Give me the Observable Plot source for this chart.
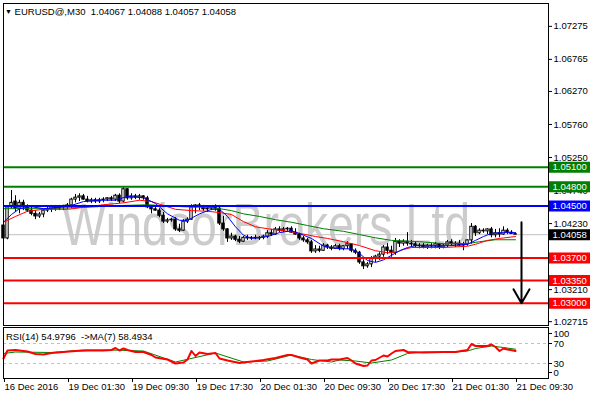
<!DOCTYPE html>
<html><head><meta charset="utf-8">
<script src="https://cdn.jsdelivr.net/npm/d3@7"></script>
<script src="https://cdn.jsdelivr.net/npm/@observablehq/plot@0.6"></script>
<style>
body{margin:0;background:#fff;}
#wrap{position:relative;width:590px;height:400px;overflow:hidden;font-family:"Liberation Sans",Arial,sans-serif;background:#fff;}
#main,#rsi{position:absolute;left:0;}
#main{top:0}
#rsi{top:327px}
.lbl{position:absolute;font-size:9.5px;line-height:11px;color:#000;white-space:pre;}
</style></head><body>
<div id="wrap"><div id="main"></div><div id="rsi"></div>
<div class="lbl" id="title" style="left:5px;top:6px"></div>
<div class="lbl" id="rsiTitle" style="left:6px;top:331px"></div>
</div>
<script>
// ---- header text ----
const symbolName = "EURUSD@,M30";
const headerOHLC = ["1.04067", "1.04088", "1.04057", "1.04058"];
const rsiHeader = ["RSI(14) 54.9796", "->MA(7) 58.4934"];
const watermark = "WindsorBrokers Ltd";

// ---- candles (30-min bars, index 0 = 16 Dec 2016 ... 128 = 21 Dec 09:30) ----
const open = [1.0420,1.0400,1.0448,1.0457,1.0446,1.0455,1.0448,1.0443,1.0438,1.0434,
 1.0437,1.0443,1.0445,1.0448,1.0446,1.0448,1.0449,1.0451,1.0460,1.0463,
 1.0465,1.0460,1.0457,1.0459,1.0457,1.0459,1.0460,1.0462,1.0460,1.0466,
 1.0457,1.0476,1.0462,1.0465,1.0463,1.0465,1.0462,1.0448,1.0445,1.0443,
 1.0435,1.0426,1.0428,1.0429,1.0414,1.0412,1.0426,1.0429,1.0448,1.0451,
 1.0449,1.0445,1.0446,1.0448,1.0446,1.0423,1.0414,1.0400,1.0403,1.0398,
 1.0395,1.0401,1.0400,1.0401,1.0400,1.0401,1.0403,1.0408,1.0406,1.0414,
 1.0412,1.0414,1.0415,1.0409,1.0406,1.0400,1.0397,1.0394,1.0380,1.0383,
 1.0381,1.0389,1.0386,1.0384,1.0388,1.0384,1.0388,1.0391,1.0381,1.0378,
 1.0363,1.0357,1.0360,1.0369,1.0372,1.0375,1.0386,1.0381,1.0378,1.0395,
 1.0392,1.0395,1.0392,1.0391,1.0388,1.0389,1.0386,1.0389,1.0388,1.0391,
 1.0386,1.0389,1.0394,1.0391,1.0392,1.0389,1.0391,1.0397,1.0418,1.0408,
 1.0412,1.0411,1.0414,1.0405,1.0408,1.0406,1.0412,1.0409,1.04067];
const high = [1.0425,1.0451,1.0474,1.0466,1.0459,1.0459,1.0452,1.0449,1.0443,1.0440,
 1.0445,1.0448,1.0451,1.0451,1.0451,1.0451,1.0454,1.0462,1.0468,1.0469,
 1.0468,1.0465,1.0462,1.0462,1.0462,1.0463,1.0463,1.0465,1.0468,1.0469,
 1.0479,1.0477,1.0469,1.0468,1.0468,1.0466,1.0465,1.0451,1.0449,1.0446,
 1.0440,1.0431,1.0431,1.0432,1.0422,1.0429,1.0432,1.0452,1.0452,1.0454,
 1.0451,1.0449,1.0449,1.0452,1.0449,1.0434,1.0415,1.0408,1.0405,1.0403,
 1.0403,1.0405,1.0403,1.0405,1.0403,1.0405,1.0412,1.0414,1.0417,1.0418,
 1.0417,1.0417,1.0418,1.0415,1.0408,1.0403,1.0400,1.0397,1.0389,1.0388,
 1.0392,1.0391,1.0389,1.0391,1.0391,1.0389,1.0395,1.0392,1.0384,1.0380,
 1.0367,1.0363,1.0372,1.0374,1.0378,1.0389,1.0392,1.0388,1.0400,1.0398,
 1.0398,1.0409,1.0397,1.0395,1.0392,1.0392,1.0391,1.0392,1.0394,1.0392,
 1.0391,1.0397,1.0398,1.0395,1.0397,1.0394,1.0398,1.0423,1.0420,1.0415,
 1.0415,1.0415,1.0417,1.0414,1.0415,1.0418,1.0415,1.0412,1.04088];
const low = [1.0397,1.0398,1.0446,1.0440,1.0438,1.0443,1.0440,1.0435,1.0429,1.0431,
 1.0432,1.0440,1.0440,1.0442,1.0443,1.0443,1.0445,1.0446,1.0455,1.0457,
 1.0459,1.0455,1.0454,1.0454,1.0454,1.0455,1.0457,1.0457,1.0457,1.0454,
 1.0455,1.0459,1.0459,1.0460,1.0459,1.0459,1.0446,1.0438,1.0442,1.0432,
 1.0423,1.0423,1.0425,1.0411,1.0409,1.0411,1.0423,1.0428,1.0438,1.0443,
 1.0442,1.0440,1.0443,1.0442,1.0420,1.0411,1.0394,1.0397,1.0395,1.0392,
 1.0394,1.0397,1.0397,1.0398,1.0397,1.0398,1.0400,1.0403,1.0405,1.0409,
 1.0409,1.0411,1.0408,1.0405,1.0397,1.0394,1.0391,1.0377,1.0377,1.0378,
 1.0380,1.0383,1.0381,1.0383,1.0381,1.0381,1.0383,1.0378,1.0375,1.0360,
 1.0352,1.0354,1.0355,1.0363,1.0366,1.0371,1.0375,1.0371,1.0374,1.0386,
 1.0388,1.0388,1.0386,1.0386,1.0384,1.0384,1.0383,1.0384,1.0384,1.0383,
 1.0384,1.0386,1.0388,1.0386,1.0388,1.0381,1.0388,1.0391,1.0403,1.0406,
 1.0408,1.0406,1.0401,1.0401,1.0401,1.0405,1.0406,1.0406,1.04057];
const close = [1.0400,1.0448,1.0455,1.0446,1.0455,1.0448,1.0443,1.0438,1.0434,1.0437,
 1.0443,1.0445,1.0448,1.0446,1.0448,1.0449,1.0451,1.0460,1.0463,1.0465,
 1.0460,1.0457,1.0459,1.0457,1.0459,1.0460,1.0462,1.0460,1.0466,1.0457,
 1.0476,1.0462,1.0465,1.0463,1.0465,1.0462,1.0448,1.0445,1.0443,1.0435,
 1.0426,1.0428,1.0429,1.0414,1.0412,1.0426,1.0429,1.0448,1.0451,1.0449,
 1.0445,1.0446,1.0448,1.0446,1.0423,1.0414,1.0400,1.0403,1.0398,1.0395,
 1.0401,1.0400,1.0401,1.0400,1.0401,1.0403,1.0408,1.0406,1.0414,1.0412,
 1.0414,1.0415,1.0409,1.0406,1.0400,1.0397,1.0394,1.0380,1.0383,1.0381,
 1.0389,1.0386,1.0384,1.0388,1.0384,1.0388,1.0391,1.0381,1.0378,1.0363,
 1.0357,1.0360,1.0369,1.0372,1.0375,1.0386,1.0381,1.0378,1.0395,1.0392,
 1.0395,1.0392,1.0391,1.0388,1.0389,1.0386,1.0389,1.0388,1.0391,1.0386,
 1.0389,1.0394,1.0391,1.0392,1.0389,1.0391,1.0397,1.0418,1.0408,1.0412,
 1.0411,1.0414,1.0405,1.0408,1.0406,1.0412,1.0409,1.0407,1.04058];

// ---- moving averages (bar index, price) ----
const maFastBar = [0,2,4,7,10,14,17,20,24,28,31,35,38,41,44,46,49,52,54,56,58,60,62,66,69,72,75,77,80,84,87,89,91,93,95,97,99,101,103,108,112,116,118,120,122,125,128];
const maFastVal = [1.0425,1.0437,1.0446,1.0449,1.0446,1.0448,1.0451,1.0457,1.0459,1.0459,1.0465,1.0463,1.0454,1.0438,1.0428,1.0428,1.0438,1.0445,1.0445,1.0434,1.0418,1.0405,1.0400,1.0403,1.0409,1.0412,1.0405,1.0400,1.0388,1.0384,1.0384,1.0377,1.0366,1.0363,1.0367,1.0374,1.0381,1.0386,1.0389,1.0388,1.0389,1.0391,1.0397,1.0403,1.0408,1.0409,1.0409];
const maMidBar = [0,3,6,10,16,20,25,30,34,37,40,43,47,51,54,57,60,63,66,70,74,78,81,85,89,93,96,98,100,102,110,116,118,121,124,128];
const maMidVal = [1.0425,1.0434,1.0442,1.0445,1.0445,1.0448,1.0452,1.0455,1.0459,1.0457,1.0451,1.0445,1.0443,1.0442,1.0440,1.0437,1.0426,1.0418,1.0415,1.0412,1.0408,1.0403,1.0400,1.0395,1.0389,1.0381,1.0378,1.0378,1.0383,1.0386,1.0386,1.0388,1.0391,1.0397,1.0400,1.0403];
const maSlowBar = [0,10,20,30,36,45,51,54,57,60,64,68,72,76,80,85,89,93,97,104,110,116,119,123,128];
const maSlowVal = [1.0446,1.0446,1.0448,1.0451,1.0452,1.0449,1.0448,1.0446,1.0443,1.0438,1.0434,1.0429,1.0425,1.0420,1.0415,1.0411,1.0406,1.0401,1.0397,1.0395,1.0392,1.0392,1.0395,1.0398,1.0398];

// ---- horizontal levels ----
const levelValues = [1.0510, 1.0480, 1.0450, 1.0370, 1.0335, 1.0300];
const levelColors = ["#008000", "#008000", "#0000ff", "#ff0000", "#ff0000", "#ff0000"];
const currentPrice = 1.04058;
const priceTicks = [1.07275, 1.06765, 1.06270, 1.05760, 1.05250, 1.04740, 1.04230, 1.03210, 1.02715];
const arrowBar = [129.5];
const arrowFrom = [1.0425];
const arrowTo = [1.0300];

// ---- RSI panel ----
const rsiBar = [0,1,3,5,6,8,10,12,15,18,21,25,27,28,29,30,31,33,35,37,38,41,43,45,46,47,48,49,51,53,54,56,59,61,65,68,71,72,74,76,77,79,81,82,84,86,87,88,90,91,92,93,95,96,97,98,100,101,105,110,113,116,117,118,121,122,123,124,125,126,128];
const rsiVal = [40,56,57,55,54,49,48,51,53,55,56,56,57,61,56,60,57,53,53,47,42,38,30,32,38,55,45,52,49,51,40,36,31,33,37,41,47,47,42,38,30,36,36,38,38,41,36,30,25,26,36,37,46,44,50,55,57,53,52,53,53,57,69,65,65,68,63,55,60,58,55];
const rsiMaBar = [0,3,12,20,27,35,43,53,60,66,72,77,82,84,88,92,97,101,105,113,116,118,122,125,128];
const rsiMaVal = [50,53,52,57,57,55,33,51,33,35,47,38,33,37,35,31,37,50,53,53,55,60,65,62,58.5];
const rsiLevels = [70, 30];

// ---- time axis ----
const timeTicks = [0, 16, 32, 48, 64, 80, 96, 112, 128];
const timeLabels = ["16 Dec 2016", "19 Dec 01:30", "19 Dec 09:30", "19 Dec 17:30", "20 Dec 01:30", "20 Dec 09:30", "20 Dec 17:30", "21 Dec 01:30", "21 Dec 09:30"];

// ---- build ----
const bars = close.map((c, i) => ({i, o: open[i], h: high[i], l: low[i], c}));
const mk = (b, v) => b.map((x, k) => ({x, y: v[k]}));
const fast = mk(maFastBar, maFastVal), mid = mk(maMidBar, maMidVal), slow = mk(maSlowBar, maSlowVal);
const levels = levelValues.map((v, k) => ({v, c: levelColors[k]}));
const boxes = [...levels, {v: currentPrice, c: "#000000"}];
const arrows = arrowBar.map((x, k) => ({x, from: arrowFrom[k], to: arrowTo[k]}));
const xMax = 136.25;
const fmt5 = d3.format(".5f");
const font = "Liberation Sans, Arial, sans-serif";
const style = {fontFamily: font, fontSize: "9.5px", background: "transparent", color: "black", overflow: "visible"};

const main = Plot.plot({
  width: 590, height: 327, marginLeft: 3, marginRight: 42, marginTop: 3, marginBottom: 2,
  x: {domain: [0, xMax], axis: null},
  y: {domain: [1.02656, 1.07628], axis: null},
  color: {type: "identity"},
  style,
  marks: [
    Plot.text([watermark], {text: d => d, frameAnchor: "middle", dx: -10, dy: 61, fontSize: 60, fill: "#cccccc", fontFamily: font}),
    Plot.ruleY([currentPrice], {stroke: "#c0c0c0"}),
    Plot.ruleX(bars, {x: "i", y1: "l", y2: "h", stroke: "black", strokeWidth: 1}),
    Plot.rect(bars, {x1: d => d.i - 0.3, x2: d => d.i + 0.3, y1: "o", y2: "c", fill: d => d.c >= d.o ? "white" : "black", stroke: "black", strokeWidth: 1}),
    Plot.line(slow, {x: "x", y: "y", stroke: "#008000", strokeWidth: 1}),
    Plot.line(mid, {x: "x", y: "y", stroke: "#ff0000", strokeWidth: 1}),
    Plot.line(fast, {x: "x", y: "y", stroke: "#0000ff", strokeWidth: 1}),
    Plot.ruleY(levels, {y: "v", stroke: "c", strokeWidth: 2}),
    Plot.arrow(arrows, {x1: "x", x2: "x", y1: "from", y2: "to", stroke: "black", strokeWidth: 2, headLength: 12}),
    Plot.frame({stroke: "black"}),
    Plot.axisY(priceTicks, {anchor: "right", label: null, tickSize: 3, tickPadding: 2, tickFormat: fmt5, fontSize: 9.5}),
    Plot.ruleY(boxes, {y: "v", x1: xMax + 0.25, x2: xMax + 12, stroke: "c", strokeWidth: 11}),
    Plot.text(boxes, {y: "v", x: xMax + 0.25, dx: 3, text: d => fmt5(d.v), fill: "white", textAnchor: "start", fontSize: 9.5})
  ]
});
const wm = main.querySelector('g[aria-label="text"] text');
if (wm) { wm.setAttribute("textLength", 408); wm.setAttribute("lengthAdjust", "spacingAndGlyphs"); }
document.getElementById("main").appendChild(main);

const rsi = Plot.plot({
  width: 590, height: 73, marginLeft: 3, marginRight: 42, marginTop: 0, marginBottom: 22,
  x: {domain: [0, xMax]},
  y: {domain: [0, 100], range: [51, 1], axis: null},
  style,
  marks: [
    Plot.ruleY(rsiLevels, {stroke: "#c0c0c0", strokeDasharray: "3,3"}),
    Plot.line(mk(rsiMaBar, rsiMaVal), {x: "x", y: "y", stroke: "#008000", strokeWidth: 1}),
    Plot.line(mk(rsiBar, rsiVal), {x: "x", y: "y", stroke: "#ff0000", strokeWidth: 2}),
    Plot.frame({stroke: "black"}),
    Plot.axisY([70, 30], {anchor: "right", label: null, tickSize: 3, tickPadding: 2, fontSize: 9.5}),
    Plot.axisY([100], {anchor: "right", label: null, tickSize: 3, tickPadding: 2, dy: 5, fontSize: 9.5}),
    Plot.axisY([0], {anchor: "right", label: null, tickSize: 3, tickPadding: 2, dy: -6, fontSize: 9.5}),
    Plot.axisX(timeTicks, {anchor: "bottom", label: null, tickSize: 4, tickPadding: 1, textAnchor: "start", dx: 1, fontSize: 9.5, tickFormat: d => timeLabels[timeTicks.indexOf(d)]})
  ]
});
document.getElementById("rsi").appendChild(rsi);

document.getElementById("title").innerHTML = '<span style="font-size:7px;vertical-align:1px">&#9660;</span> ' + symbolName + "  " + headerOHLC.join(" ");
document.getElementById("rsiTitle").textContent = rsiHeader.join("  ");
</script>
</body></html>
